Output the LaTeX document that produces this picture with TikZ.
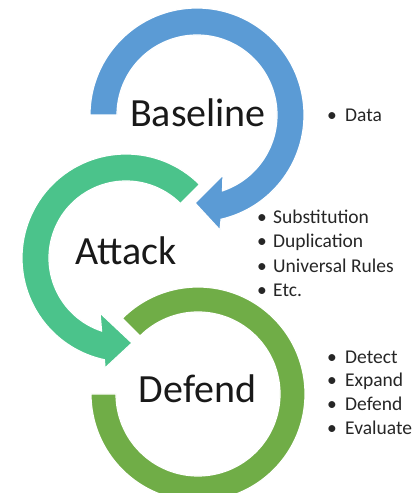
\documentclass[tikz,border=0pt]{standalone}
\usepackage{fontspec}
\setmainfont{Carlito}
\definecolor{arcblue}{HTML}{5B9BD5}
\definecolor{arcteal}{HTML}{4BC38B}
\definecolor{arcgreen}{HTML}{70AD47}
\begin{document}
\begin{tikzpicture}[x=1pt,y=1pt,
  ring/.style={draw=white, line width=1.2pt, line join=miter},
  big/.style={font=\fontsize{40}{47}\selectfont, text=black!90, inner sep=0pt, anchor=base},
  item/.style={font=\fontsize{19.5}{23}\selectfont, text=black!85, inner sep=0pt, anchor=base west},
  dot/.style={font=\fontsize{19.5}{23}\selectfont, text=black!85, inner sep=0pt, anchor=base}]
\useasboundingbox (0,0) rectangle (414,493);
\begin{scope}
\clip (0,0) rectangle (414,493);
% Defend ring (dark green)
\begin{scope}[shift={(198pt,99pt)}]
\path[ring, fill=arcgreen] (135:107pt) arc[start angle=135, end angle=-180, radius=107pt]
  -- (180:82pt) arc[start angle=-180, end angle=135, radius=82pt] -- cycle;
\end{scope}
% Attack ring (teal) with arrowhead
\begin{scope}[shift={(126pt,235pt)}]
\path[ring, fill=arcteal] (45:104pt) arc[start angle=45, end angle=258, radius=104pt]
  -- (259.2:112pt) -- (274:85.2pt) -- (244.7:60.8pt) -- (251.5:77pt)
  arc[start angle=251.5, end angle=45, radius=77pt] -- cycle;
\end{scope}
% Baseline ring (blue) with arrowhead
\begin{scope}[shift={(197pt,378pt)}]
\path[ring, fill=arcblue] (180:107pt) arc[start angle=180, end angle=-77, radius=107pt]
  -- (-78.7:117.3pt) -- (-91.3:88pt) -- (-66.6:65.4pt) -- (-71.4:80pt)
  arc[start angle=-71.4, end angle=180, radius=80pt] -- cycle;
\end{scope}
\end{scope}
% Stage labels
\node[big] (baseline) at (198,366) {Baseline};
\node[big] (attack) at (126,228) {Attack};
\node[big] (defend) at (197.5,90) {Defend};
% Baseline list
\node[dot] (b1) at (332,371.7) {\textbullet};
\node[item] (t1) at (345,371.7) {Data};
% Attack list
\node[dot] (a1) at (262,269.7) {\textbullet};
\node[item] (s1) at (273,269.7) {Substitution};
\node[dot] (a2) at (262,245.2) {\textbullet};
\node[item] (s2) at (273,245.2) {Duplication};
\node[dot] (a3) at (262,220.7) {\textbullet};
\node[item] (s3) at (273,220.7) {Universal Rules};
\node[dot] (a4) at (262,196.2) {\textbullet};
\node[item] (s4) at (273,196.2) {Etc.};
% Defend list
\node[dot] (d1) at (332,129.7) {\textbullet};
\node[item] (u1) at (345,129.7) {Detect};
\node[dot] (d2) at (332,106) {\textbullet};
\node[item] (u2) at (345,106) {Expand};
\node[dot] (d3) at (332,82.4) {\textbullet};
\node[item] (u3) at (345,82.4) {Defend};
\node[dot] (d4) at (332,58.7) {\textbullet};
\node[item] (u4) at (345,58.7) {Evaluate};
\end{tikzpicture}
\end{document}
